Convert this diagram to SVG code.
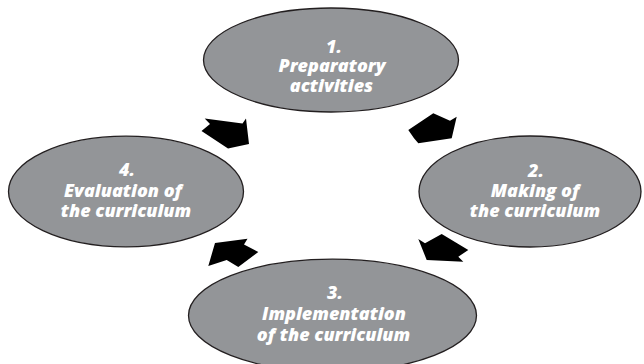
<svg xmlns="http://www.w3.org/2000/svg" width="644" height="364" viewBox="0 0 644 364">
<style>
.node ellipse{fill:#939598;stroke:#231f20;stroke-width:1.3}
.node text{font-family:"Open Sans","Noto Sans","Liberation Sans",sans-serif;font-weight:800;font-style:italic;font-size:18px;fill:#ffffff;text-anchor:middle}
.conn polygon{fill:#000000;stroke:none}
</style>
<rect width="644" height="364" fill="#ffffff"/>
<g id="node1" class="node">
<ellipse cx="331" cy="60" rx="127.5" ry="52"/>
<text><tspan x="334" y="52.5">1.</tspan><tspan x="332" y="72">Preparatory</tspan><tspan x="331.5" y="92">activities</tspan></text>
</g>
<g id="node2" class="node">
<ellipse cx="530" cy="191.5" rx="111" ry="55.5"/>
<text><tspan x="536" y="177">2.</tspan><tspan x="535" y="197">Making of</tspan><tspan x="535" y="217">the curriculum</tspan></text>
</g>
<g id="node3" class="node">
<ellipse cx="332.5" cy="315.5" rx="144" ry="56.3"/>
<text><tspan x="335" y="299">3.</tspan><tspan x="334" y="320">Implementation</tspan><tspan x="333.5" y="341">of the curriculum</tspan></text>
</g>
<g id="node4" class="node">
<ellipse cx="126" cy="191.5" rx="117.5" ry="55.3"/>
<text><tspan x="127" y="176">4.</tspan><tspan x="123" y="197">Evaluation of</tspan><tspan x="126" y="217">the curriculum</tspan></text>
</g>
<g id="connectors" class="conn">
<polygon points="433.3,113.3 450,120.7 456.7,116.7 451.7,138.3 418.3,143.3 414,138.3 408.3,130"/>
<polygon points="418.3,239 425,243.3 441.7,234 468.3,250 458.3,256.7 463.3,261.7 426.7,260"/>
<polygon points="215,243 247.5,238.7 244,244.5 258.3,252 238.3,267 226.7,260 208.3,266"/>
<polygon points="204.7,118.5 242.5,123.5 246,118.5 249,144 228,148.5 201.5,131 210,124"/>
</g>
</svg>
